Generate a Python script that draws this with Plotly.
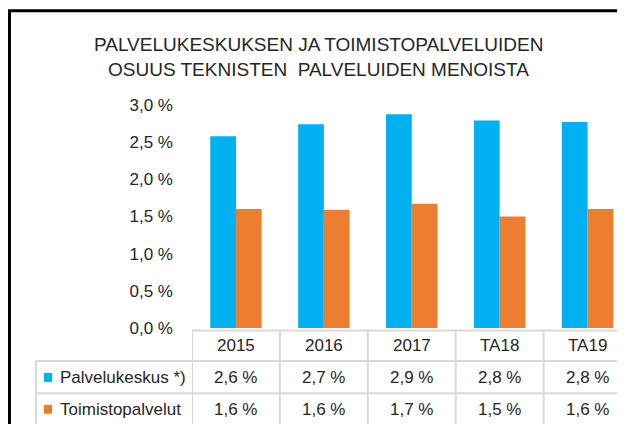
import plotly.graph_objects as go

categories = ["2015", "2016", "2017", "TA18", "TA19"]
palvelukeskus = [2.58, 2.74, 2.875, 2.79, 2.77]
toimistopalvelut = [1.60, 1.59, 1.67, 1.50, 1.60]
series_names = ["Palvelukeskus *)", "Toimistopalvelut"]
y_ticks = [0.0, 0.5, 1.0, 1.5, 2.0, 2.5, 3.0]
title_lines = ["PALVELUKESKUKSEN JA TOIMISTOPALVELUIDEN", "OSUUS TEKNISTEN  PALVELUIDEN MENOISTA"]

BLUE = "#00B0F0"
ORANGE = "#ED7D31"
TXT = "#262626"
GRID = "#D9D9D9"
FONT = "Liberation Sans, Arial, sans-serif"
FS = 17

# page offset (default body margin) and figure size
OFF = 8
FW, FH = 625 - OFF, 424 - OFF
# plot area in page-pixel coordinates
L, R, T, B = 192, 625, 105, 328.5
W, H = R - L, B - T
CAT_W = 87.9


def px(x):
    return (x - L) / W


def py(y):
    return (B - y) / H


def fmt(v):
    return f"{v:.1f}".replace(".", ",") + " %"


n = len(categories)
xidx = list(range(n))

fig = go.Figure()
fig.add_trace(go.Bar(x=xidx, y=palvelukeskus, name=series_names[0], marker_color=BLUE,
                     marker_line_width=0))
fig.add_trace(go.Bar(x=xidx, y=toimistopalvelut, name=series_names[1], marker_color=ORANGE,
                     marker_line_width=0))

shapes = []
annotations = []
line = dict(color=GRID, width=2)

# table lines
y_head_top, y_r1, y_r2, y_bot = 331, 361.5, 394, 440
shapes.append(dict(type="line", xref="x", yref="paper", x0=-0.5, x1=n - 0.5,
                   y0=py(y_head_top), y1=py(y_head_top), line=line))
for yy in (y_r1, y_r2):
    shapes.append(dict(type="line", xref="paper", yref="paper", x0=px(36), x1=1.2,
                       y0=py(yy), y1=py(yy), line=line))
for i in range(n + 1):
    shapes.append(dict(type="line", xref="x", yref="paper", x0=i - 0.5, x1=i - 0.5,
                       y0=py(y_head_top), y1=py(y_bot), line=line))
shapes.append(dict(type="line", xref="paper", yref="paper", x0=px(36), x1=px(36),
                   y0=py(y_r1), y1=py(y_bot), line=line))

# chart frame
frame = dict(color="#000000", width=3)
shapes.append(dict(type="line", xref="paper", yref="paper", x0=px(OFF + 1.5), x1=px(OFF + 1.5),
                   y0=py(10.5), y1=py(FH + 40), line=frame))
shapes.append(dict(type="line", xref="paper", yref="paper", x0=px(OFF), x1=px(FW + 40),
                   y0=py(10.5), y1=py(10.5), line=frame))

# header row
for i, c in enumerate(categories):
    annotations.append(dict(x=i, y=py(346), xref="x", yref="paper", text=c, showarrow=False,
                            font=dict(family=FONT, size=FS, color=TXT), xanchor="center",
                            yanchor="middle"))
# data rows
rows = [(palvelukeskus, BLUE, 378), (toimistopalvelut, ORANGE, 410)]
for (vals, col, yc), name in zip(rows, series_names):
    for i, v in enumerate(vals):
        annotations.append(dict(x=i, y=py(yc), xref="x", yref="paper", text=fmt(v),
                                showarrow=False, font=dict(family=FONT, size=FS, color=TXT),
                                xanchor="center", yanchor="middle"))
    shapes.append(dict(type="rect", xref="paper", yref="paper", x0=px(44), x1=px(52),
                       y0=py(yc - 4.5), y1=py(yc + 4.5), fillcolor=col, line=dict(width=0)))
    annotations.append(dict(x=px(58), y=py(yc), xref="paper", yref="paper", text=name,
                            showarrow=False, font=dict(family=FONT, size=FS, color=TXT),
                            xanchor="left", yanchor="middle"))

# title
for k, t in enumerate(title_lines):
    annotations.append(dict(x=px(318), y=py(44.7 + 25.2 * k), xref="paper", yref="paper",
                            text=t, showarrow=False, font=dict(family=FONT, size=19, color=TXT),
                            xanchor="center", yanchor="middle"))

fig.update_layout(
    width=FW, height=FH,
    margin=dict(l=L - OFF, r=FW - (R - OFF), t=T - OFF, b=FH - (B - OFF), pad=0),
    paper_bgcolor="white", plot_bgcolor="white",
    barmode="group", bargap=0.415, bargroupgap=0,
    showlegend=False,
    shapes=shapes, annotations=annotations,
    xaxis=dict(range=[-0.5, -0.5 + W / CAT_W], showticklabels=False, showgrid=False,
               zeroline=False, showline=False, ticks="", fixedrange=True),
    yaxis=dict(range=[0, 3.0], tickvals=y_ticks, ticktext=[fmt(v) for v in y_ticks],
               showgrid=False, zeroline=False, showline=False, ticks="",
               ticklabelstandoff=18,
               tickfont=dict(family=FONT, size=FS, color=TXT), fixedrange=True),
)

fig.write_html("out.html")
